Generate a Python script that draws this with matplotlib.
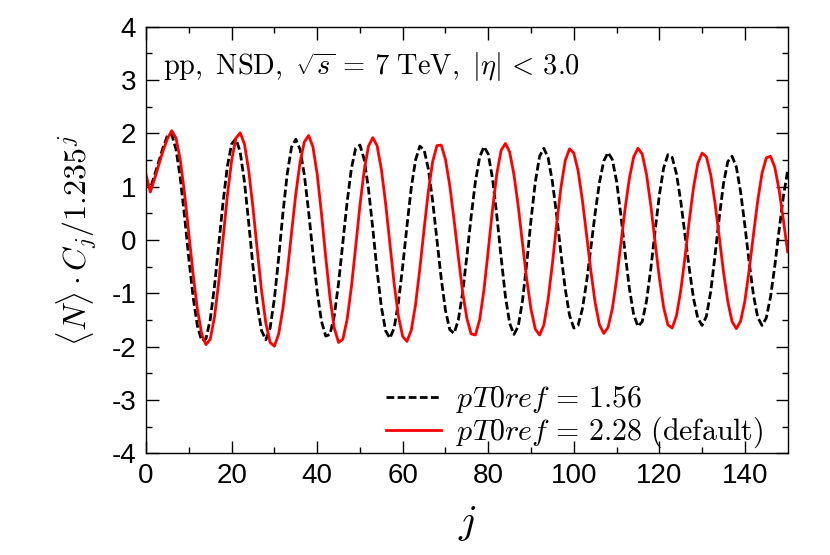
import numpy as np
import matplotlib
matplotlib.use("Agg")
import matplotlib.pyplot as plt

plt.rcParams['font.family'] = ['Liberation Sans', 'DejaVu Sans']
plt.rcParams['mathtext.fontset'] = 'cm'

# j = 0 .. 150
j = np.arange(151)

# <N> C_j / 1.235^j  for pT0ref = 1.56 (black dashed)
c_156 = [
    1.10, 0.97, 1.22, 1.48, 1.74, 1.96, 1.98, 1.70, 1.16, 0.44,
    -0.35, -1.07, -1.61, -1.89, -1.85, -1.49, -0.86, -0.08, 0.71, 1.38,
    1.80, 1.90, 1.65, 1.09, 0.32, -0.50, -1.22, -1.70, -1.87, -1.65,
    -1.10, -0.33, 0.51, 1.24, 1.74, 1.89, 1.70, 1.22, 0.53, -0.24,
    -0.97, -1.52, -1.80, -1.77, -1.42, -0.81, -0.05, 0.71, 1.34, 1.72,
    1.78, 1.51, 0.96, 0.22, -0.57, -1.25, -1.70, -1.84, -1.65, -1.17,
    -0.49, 0.27, 0.98, 1.50, 1.76, 1.69, 1.33, 0.73, 0.01, -0.72,
    -1.32, -1.68, -1.75, -1.50, -0.99, -0.30, 0.44, 1.10, 1.56, 1.75,
    1.61, 1.15, 0.46, -0.32, -1.05, -1.56, -1.77, -1.62, -1.14, -0.43,
    0.38, 1.09, 1.57, 1.72, 1.54, 1.09, 0.46, -0.26, -0.92, -1.41,
    -1.65, -1.60, -1.29, -0.78, -0.14, 0.51, 1.08, 1.48, 1.64, 1.51,
    1.10, 0.47, -0.25, -0.91, -1.40, -1.62, -1.53, -1.14, -0.54, 0.17,
    0.84, 1.35, 1.60, 1.55, 1.24, 0.73, 0.10, -0.54, -1.10, -1.47,
    -1.60, -1.43, -0.97, -0.30, 0.42, 1.06, 1.47, 1.57, 1.37, 0.90,
    0.27, -0.42, -1.03, -1.45, -1.60, -1.46, -1.06, -0.48, 0.19, 0.82,
    1.30,
]

# <N> C_j / 1.235^j  for pT0ref = 2.28 (default, red)
c_228 = [
    1.22, 0.90, 1.15, 1.42, 1.68, 1.90, 2.05, 1.91, 1.50, 0.87,
    0.12, -0.64, -1.30, -1.76, -1.96, -1.86, -1.44, -0.78, 0.03, 0.83,
    1.49, 1.91, 2.01, 1.80, 1.30, 0.60, -0.19, -0.95, -1.56, -1.92,
    -1.99, -1.76, -1.28, -0.62, 0.13, 0.86, 1.46, 1.84, 1.96, 1.75,
    1.24, 0.50, -0.32, -1.08, -1.65, -1.92, -1.86, -1.49, -0.88, -0.13,
    0.65, 1.31, 1.76, 1.92, 1.77, 1.33, 0.69, -0.07, -0.82, -1.43,
    -1.81, -1.90, -1.69, -1.21, -0.54, 0.21, 0.92, 1.47, 1.77, 1.78,
    1.51, 1.02, 0.38, -0.31, -0.97, -1.47, -1.76, -1.78, -1.49, -0.93,
    -0.19, 0.58, 1.24, 1.68, 1.81, 1.65, 1.23, 0.64, -0.06, -0.74,
    -1.30, -1.67, -1.78, -1.59, -1.11, -0.44, 0.31, 0.99, 1.49, 1.71,
    1.63, 1.30, 0.75, 0.09, -0.59, -1.18, -1.59, -1.75, -1.64, -1.29,
    -0.74, -0.08, 0.59, 1.16, 1.56, 1.72, 1.61, 1.23, 0.65, -0.04,
    -0.71, -1.26, -1.59, -1.65, -1.42, -0.95, -0.32, 0.37, 0.99, 1.44,
    1.63, 1.56, 1.23, 0.70, 0.06, -0.60, -1.15, -1.53, -1.66, -1.52,
    -1.14, -0.56, 0.10, 0.74, 1.25, 1.54, 1.57, 1.36, 0.94, 0.37,
    -0.22,
]

fig = plt.figure(figsize=(8.3, 5.55), dpi=100)
ax = fig.add_axes([0.176, 0.183, 0.773, 0.769])

ax.plot(j, c_156, color='black', lw=2, dashes=(2.8, 1.2),
        label=r'$pT0ref\,=\,1.56$')
ax.plot(j, c_228, color='#ff0000', lw=2,
        label=r'$pT0ref\,=\,2.28\ \mathrm{(default)}$')

ax.set_xlim(0, 150)
ax.set_ylim(-4, 4)
ax.set_xticks(np.arange(0, 141, 20))
ax.set_xticks(np.arange(10, 150, 20), minor=True)
ax.set_yticks(np.arange(-4, 5, 1))
ax.set_yticks(np.arange(-3.5, 4, 1), minor=True)
ax.set_yticklabels([str(v) for v in range(-4, 5)])

ax.tick_params(which='both', direction='in', top=True, right=True,
               labelsize=20, width=1)
ax.tick_params(which='major', length=9, pad=7)
ax.tick_params(which='minor', length=4.5)
for s in ax.spines.values():
    s.set_linewidth(1)

ax.set_xlabel(r'$j$', fontsize=29, labelpad=11)
ax.set_ylabel(r'$\langle N\rangle \cdot C_j/1.235^j$', fontsize=23, labelpad=10)

ax.text(0.027, 0.905, r'$\mathrm{pp,\ NSD,}\ \sqrt{s}\,=\,7\ \mathrm{TeV},\ |\eta|\,<\,3.0$',
        transform=ax.transAxes, fontsize=20.5, va='center')

ax.legend(loc='lower right', bbox_to_anchor=(0.995, -0.042), frameon=False,
          fontsize=21.5, handlelength=1.85, borderaxespad=0.3,
          handletextpad=0.5, labelspacing=0.0)

fig.savefig('out.png', dpi=100)
